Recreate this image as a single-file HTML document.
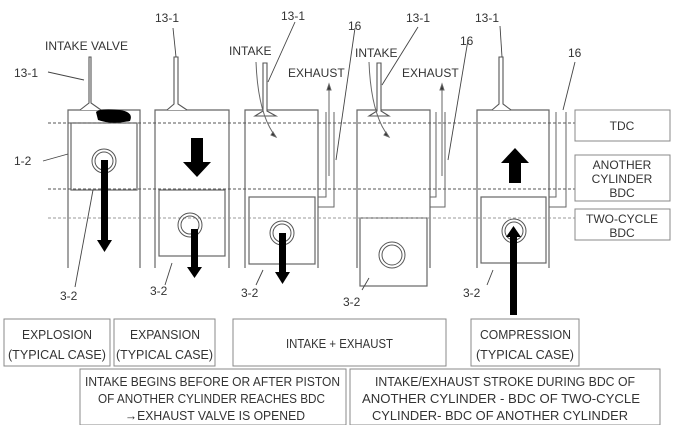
<!DOCTYPE html>
<html><head><style>
html,body{margin:0;padding:0;background:#fff;}
svg{display:block;}
text{font-family:"Liberation Sans Narrow","Liberation Sans",sans-serif;fill:#333;}
</style></head><body>
<svg width="675" height="425" viewBox="0 0 675 425" xmlns="http://www.w3.org/2000/svg">
<g stroke="#666" stroke-width="1.2" fill="none">
<path d="M68 268V110H140V268"/>
<path d="M155 268V110H229V268"/>
<path d="M245 268V110H318V268"/>
<path d="M357 268V110H430V268"/>
<path d="M477 268V110H549V268"/>
<rect x="71" y="123" width="66" height="67"/>
<rect x="159" y="190" width="66" height="66"/>
<rect x="249" y="197" width="66" height="67"/>
<rect x="360" y="218" width="67" height="68"/>
<rect x="481" y="197" width="65" height="66"/>
</g>
<g stroke="#555" stroke-width="1" stroke-dasharray="3,2">
<line x1="48" y1="123" x2="575" y2="123"/>
<line x1="48" y1="189" x2="575" y2="189"/>
<line x1="48" y1="218" x2="575" y2="218" stroke="#999"/>
</g>
<g stroke="#555" stroke-width="1.1" fill="#fff">
<path d="M80 110L89 103V57H91V103L101 110"/>
<path d="M167 110L174 104V57H178V104L187 110"/>
<path d="M255 116L263 111V63H267V111L276 116Z"/>
<path d="M369 116L377 111V63H381V111L389 116Z"/>
<path d="M492 110L499 104V57H503V104L511 110"/>
</g>
<g stroke="#666" stroke-width="1" fill="none">
<path d="M326 112V197H318"/><path d="M334 112V207H318"/>
<path d="M436 112V197H430"/><path d="M445 112V207H430"/>
<path d="M556 112V197H549"/><path d="M566 112V207H549"/>
<path d="M329 176V88"/><path d="M329 84l-2 6h4z" fill="#333"/>
<path d="M442 176V88"/><path d="M442 84l-2 6h4z" fill="#333"/>
<path d="M256 62Q258 115 276 137"/><path d="M276 137l-5-2 2-3z" fill="#333"/>
<path d="M369 62Q371 115 389 137"/><path d="M389 137l-5-2 2-3z" fill="#333"/>
</g>
<g stroke="#555" fill="none">
<circle cx="104" cy="161" r="12"/><circle cx="104" cy="161" r="9"/>
<circle cx="190" cy="225" r="12"/><circle cx="190" cy="225" r="9"/>
<circle cx="282" cy="233" r="12"/><circle cx="282" cy="233" r="9"/>
<circle cx="392" cy="255" r="13"/><circle cx="392" cy="255" r="10"/>
<circle cx="514" cy="231" r="12"/><circle cx="514" cy="231" r="9"/>
</g>
<g fill="#000">
<path d="M96 112Q100 108 120 110Q134 112 130 121Q112 125 98 120Z"/>
<path d="M101 160h7v80h4l-7.5 12-7.5-12h4z"/>
<path d="M191 229h7v38h4l-7.5 11-7.5-11h4z"/>
<path d="M279 233h7v39h4l-7.5 12-7.5-12h4z"/>
<path d="M191 138h12v24h8l-14 15-14-15h8z"/>
<path d="M509 183h12v-20h8l-14-15-14 15h8z"/>
<path d="M510 315h7v-78h4l-7.5-11-7.5 11h4z"/>
</g>
<g stroke="#444" stroke-width="0.9" fill="none">
<path d="M48 72L84 80"/><path d="M43 161L68 154"/>
<path d="M173 28L176 57"/><path d="M295 22L268 82"/>
<path d="M418 27L382 85"/><path d="M500 26L502 57"/>
<path d="M355 28L336 160"/><path d="M468 40L448 160"/><path d="M575 62L563 110"/>
<path d="M75 287L93 190"/><path d="M165 285L172 263"/><path d="M256 285L263 270"/>
<path d="M362 290L369 278"/><path d="M487 285L493 270"/>
</g>
<g font-size="12">
<text x="45" y="50" textLength="83" lengthAdjust="spacingAndGlyphs">INTAKE VALVE</text>
<text x="14" y="77">13-1</text>
<text x="14" y="165">1-2</text>
<text x="155" y="22">13-1</text>
<text x="281" y="20">13-1</text>
<text x="229" y="55">INTAKE</text>
<text x="288" y="77">EXHAUST</text>
<text x="348" y="30">16</text>
<text x="406" y="22">13-1</text>
<text x="355" y="57">INTAKE</text>
<text x="402" y="77">EXHAUST</text>
<text x="460" y="45">16</text>
<text x="475" y="22">13-1</text>
<text x="568" y="57">16</text>
<text x="60" y="300">3-2</text>
<text x="150" y="295">3-2</text>
<text x="241" y="297">3-2</text>
<text x="343" y="306">3-2</text>
<text x="463" y="297">3-2</text>
</g>
<g stroke="#888" fill="none">
<rect x="575" y="110" width="95" height="31"/>
<rect x="575" y="155" width="95" height="46"/>
<rect x="575" y="209" width="95" height="31"/>
<rect x="4" y="319" width="106" height="47"/>
<rect x="114" y="319" width="101" height="47"/>
<rect x="233" y="319" width="213" height="47"/>
<rect x="471" y="319" width="108" height="47"/>
<rect x="80" y="369" width="266" height="56"/>
<rect x="350" y="369" width="310" height="56"/>
</g>
<g font-size="12" text-anchor="middle">
<text x="622" y="130">TDC</text>
<text x="622" y="169">ANOTHER</text>
<text x="622" y="183">CYLINDER</text>
<text x="622" y="197">BDC</text>
<text x="622" y="223">TWO-CYCLE</text>
<text x="622" y="237">BDC</text>
</g>
<g font-size="13">
<text x="22" y="339" textLength="70" lengthAdjust="spacingAndGlyphs">EXPLOSION</text>
<text x="8" y="359" textLength="98" lengthAdjust="spacingAndGlyphs">(TYPICAL CASE)</text>
<text x="130" y="339" textLength="70" lengthAdjust="spacingAndGlyphs">EXPANSION</text>
<text x="116" y="359" textLength="97" lengthAdjust="spacingAndGlyphs">(TYPICAL CASE)</text>
<text x="286" y="348" textLength="107" lengthAdjust="spacingAndGlyphs">INTAKE + EXHAUST</text>
<text x="480" y="339" textLength="91" lengthAdjust="spacingAndGlyphs">COMPRESSION</text>
<text x="476" y="359" textLength="98" lengthAdjust="spacingAndGlyphs">(TYPICAL CASE)</text>
<text x="85" y="386" textLength="255" lengthAdjust="spacingAndGlyphs">INTAKE BEGINS BEFORE OR AFTER PISTON</text>
<text x="98" y="403" textLength="227" lengthAdjust="spacingAndGlyphs">OF ANOTHER CYLINDER REACHES BDC</text>
<text x="125" y="420" textLength="180" lengthAdjust="spacingAndGlyphs">→EXHAUST VALVE IS OPENED</text>
<text x="375" y="386" textLength="260" lengthAdjust="spacingAndGlyphs">INTAKE/EXHAUST STROKE DURING BDC OF</text>
<text x="362" y="403" textLength="278" lengthAdjust="spacingAndGlyphs">ANOTHER CYLINDER - BDC OF TWO-CYCLE</text>
<text x="372" y="420" textLength="256" lengthAdjust="spacingAndGlyphs">CYLINDER- BDC OF ANOTHER CYLINDER</text>
</g>
</svg>
</body></html>
